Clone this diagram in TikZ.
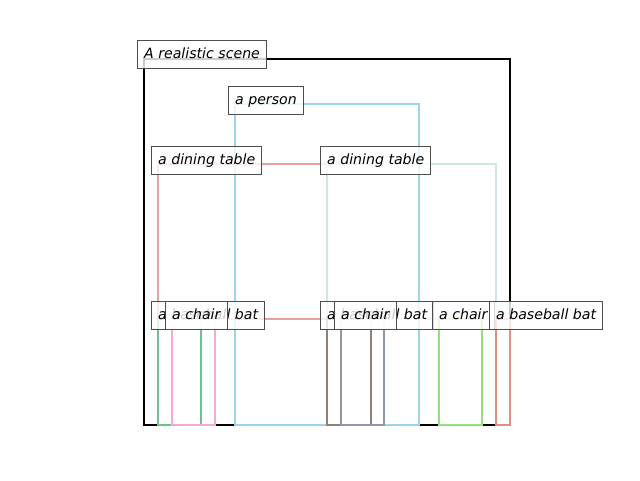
\documentclass[tikz,border=0pt]{standalone}
\usepackage{fontspec}
\setsansfont{DejaVu Sans}
\usepackage{xcolor}

\definecolor{personblue}{HTML}{9DD4E8}
\definecolor{tablered}{HTML}{E8A0A0}
\definecolor{tableteal}{HTML}{D0E5E8}
\definecolor{batgreen}{HTML}{6CC18E}
\definecolor{chairpink}{HTML}{F7A8D6}
\definecolor{batbrown}{HTML}{8C8278}
\definecolor{chairslate}{HTML}{9096A8}
\definecolor{chairgreen}{HTML}{96E07A}
\definecolor{batsalmon}{HTML}{E0907E}

\tikzset{
    obj/.style={line width=1.6pt},
    tag/.style={draw=black!70, line width=0.75pt, fill=white, fill opacity=0.8,
        text opacity=1, anchor=west, minimum height=21pt, inner xsep=5pt,
        text height=8pt, text depth=1.6pt,
        font=\sffamily\itshape\fontsize{10.6}{12}\selectfont}
}

\begin{document}
\begin{tikzpicture}[x=0.75pt,y=-0.75pt]
        \useasboundingbox (0,0) rectangle (640,480);

        \coordinate (scene1)  at (144,59);  \coordinate (scene2)  at (510,425);
        \coordinate (person1) at (235,104); \coordinate (person2) at (419,425);
        \coordinate (tableA1) at (158,164); \coordinate (tableA2) at (327,319);
        \coordinate (tableB1) at (327,164); \coordinate (tableB2) at (496,319);
        \coordinate (batA1)   at (158,319); \coordinate (batA2)   at (201,425);
        \coordinate (chairA1) at (172,319); \coordinate (chairA2) at (215,425);
        \coordinate (batB1)   at (327,319); \coordinate (batB2)   at (371,425);
        \coordinate (chairB1) at (341,319); \coordinate (chairB2) at (384,425);
        \coordinate (chairC1) at (439,319); \coordinate (chairC2) at (482,425);
        \coordinate (batC1)   at (496,319); \coordinate (batC2)   at (510,425);

        \draw[obj,black]      (scene1)  rectangle (scene2);
        \draw[obj,personblue] (person1) rectangle (person2);
        \draw[obj,tablered]   (tableA1) rectangle (tableA2);
        \draw[obj,tableteal]  (tableB1) rectangle (tableB2);
        \draw[obj,batgreen]   (batA1)   rectangle (batA2);
        \draw[obj,chairpink]  (chairA1) rectangle (chairA2);
        \draw[obj,batbrown]   (batB1)   rectangle (batB2);
        \draw[obj,chairslate] (chairB1) rectangle (chairB2);
        \draw[obj,chairgreen] (chairC1) rectangle (chairC2);
        \draw[obj,batsalmon]  (batC1)   rectangle (batC2);

        \node[tag] (sceneTag)  at ([shift={(-7,-5)}]scene1)  {A realistic scene};
        \node[tag] (personTag) at ([shift={(-7,-4)}]person1) {a person};
        \node[tag] (tableATag) at ([shift={(-7,-4)}]tableA1) {a dining table};
        \node[tag] (tableBTag) at ([shift={(-7,-4)}]tableB1) {a dining table};
        \node[tag] (batATag)   at ([shift={(-7,-4)}]batA1)   {a baseball bat};
        \node[tag] (chairATag) at ([shift={(-7,-4)}]chairA1) {a chair};
        \node[tag] (batBTag)   at ([shift={(-7,-4)}]batB1)   {a baseball bat};
        \node[tag] (chairBTag) at ([shift={(-7,-4)}]chairB1) {a chair};
        \node[tag] (chairCTag) at ([shift={(-7,-4)}]chairC1) {a chair};
        \node[tag] (batCTag)   at ([shift={(-7,-4)}]batC1)   {a baseball bat};
\end{tikzpicture}
\end{document}
